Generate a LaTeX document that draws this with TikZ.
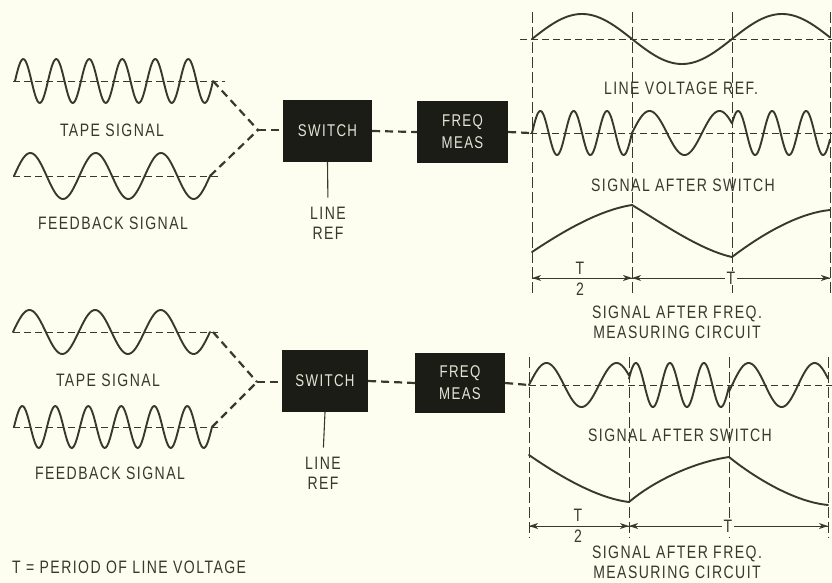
\documentclass[tikz,border=0pt]{standalone}
\usepackage{fontspec}
\usetikzlibrary{arrows.meta}
\newfontfamily\labfont{Liberation Sans}[FakeStretch=0.78,LetterSpace=8]
\definecolor{bgc}{HTML}{FDFDF0}
\definecolor{inkc}{HTML}{38382F}
\definecolor{boxc}{HTML}{1C1C16}
\definecolor{boxtxt}{HTML}{E4E4D6}
\newcommand{\mywave}[6]{\draw[wave] plot[domain=#1:#2,samples=150,smooth] (\x,{#3-#4*sin(#6+(\x-#1)/#5*360)});}
\newcommand{\tipL}[1]{\fill[inkc] (#1) -- ++(9,-3) -- ++(-2.5,3) -- ++(2.5,3) -- cycle;}
\newcommand{\tipR}[1]{\fill[inkc] (#1) -- ++(-9,-3) -- ++(2.5,3) -- ++(-2.5,3) -- cycle;}
\tikzset{
  wave/.style={draw=inkc, line width=1.9pt, line join=round, line cap=round},
  base/.style={draw=inkc, line width=0.9pt, dash pattern=on 7pt off 4pt},
  conn/.style={draw=inkc, line width=2.2pt, dash pattern=on 8pt off 5pt},
  vguide/.style={draw=inkc, line width=0.8pt, dash pattern=on 11pt off 4pt},
  solidln/.style={draw=inkc, line width=1.1pt},
  dimln/.style={draw=inkc, line width=0.9pt},
  blk/.style={fill=boxc, draw=none, text=boxtxt, font=\labfont\fontsize{17}{22}\selectfont, align=center, inner sep=0pt},
  lbl/.style={text=inkc, font=\labfont\fontsize{18}{20}\selectfont, inner sep=0pt, align=center},
}
\begin{document}
\begin{tikzpicture}[x=1pt,y=-1pt]
\useasboundingbox (0,0) rectangle (832,583);
\fill[bgc] (0,0) rectangle (832,583);

% ---------- TOP LEFT ----------
\draw[base] (13,81) -- (225,81);
\mywave{15}{213}{81}{22}{33}{0}
\draw[base] (13,176) -- (222,176);
\mywave{14}{210}{176}{23}{65.333}{0}
\node[lbl] (tape1) at (112,130) {TAPE SIGNAL};
\node[lbl] (feed1) at (113,223) {FEEDBACK SIGNAL};

\node[blk, minimum width=89pt, minimum height=62pt] (sw1) at (327.5,131) {SWITCH};
\node[blk, minimum width=91pt, minimum height=61pt] (fm1) at (462.5,132) {FREQ\\MEAS};
\node[lbl] (lr1) at (328,223) {LINE\\REF};

\coordinate (te1) at (213,81);
\coordinate (fe1) at (210,176);
\coordinate (j1) at (258,130);
\coordinate (o1) at (530,133);
\draw[conn] (te1) -- (j1);
\draw[conn] (fe1) -- (j1);
\draw[conn] (j1) -- (j1 -| sw1.west);
\draw[conn] (sw1.east) -- (fm1.west);
\draw[conn] (fm1.east) -- (o1);
\draw[solidln, shorten >=9pt] (sw1.south) -- (lr1.north);

% ---------- TOP RIGHT ----------
\foreach \xv in {532,632,732,830} \draw[vguide] (\xv,12) -- (\xv,296);
\draw[base] (520,39) -- (832,39);
\mywave{532}{830}{39}{25}{200}{0}
\node[lbl] (lvr) at (681,88) {LINE VOLTAGE REF.};

\draw[base] (o1) -- (832,133);
\mywave{532}{632}{133}{22}{33.333}{0}
\mywave{632}{732}{133}{22}{70}{0}
\mywave{732}{830}{133}{22}{34}{25.5}
\node[lbl] (sas1) at (683,185) {SIGNAL AFTER SWITCH};

\draw[wave] (532,252) .. controls (565,230) and (600,210) .. (632,205);
\draw[wave] (632,205) .. controls (660,222) and (700,250) .. (732,257);
\draw[wave] (732,257) .. controls (765,232) and (800,213) .. (830,210);

\coordinate (da1) at (532,278);
\coordinate (da2) at (632,278);
\coordinate (da3) at (830,278);
\draw[dimln] (da1) -- (da2);
\draw[dimln] (da2) -- (da3);
\tipL{da1} \tipR{da2} \tipL{da2} \tipR{da3}
\node[lbl] (th1) at (580,268) {T};
\node[lbl] (tw1) at (580,289) {2};
\node[lbl, fill=bgc, inner xsep=2pt, inner ysep=1pt] (tt1) at (731,278) {T};
\node[lbl] (sfm1) at (677,322) {SIGNAL AFTER FREQ.\\MEASURING CIRCUIT};

% ---------- BOTTOM LEFT ----------
\draw[base] (13,332) -- (220,332);
\mywave{13}{210}{332}{22}{65.667}{0}
\draw[base] (13,427) -- (222,427);
\mywave{14}{212}{427}{21}{33}{0}
\node[lbl] (tape2) at (108,380) {TAPE SIGNAL};
\node[lbl] (feed2) at (110,473) {FEEDBACK SIGNAL};

\node[blk, minimum width=86pt, minimum height=62pt] (sw2) at (325,381) {SWITCH};
\node[blk, minimum width=90pt, minimum height=60pt] (fm2) at (460,383) {FREQ\\MEAS};
\node[lbl] (lr2) at (323,473) {LINE\\REF};

\coordinate (te2) at (213,332);
\coordinate (fe2) at (212,427);
\coordinate (j2) at (257,382);
\coordinate (o2) at (529,385);
\draw[conn] (te2) -- (j2);
\draw[conn] (fe2) -- (j2);
\draw[conn] (j2) -- (j2 -| sw2.west);
\draw[conn] (sw2.east) -- (fm2.west);
\draw[conn] (fm2.east) -- (o2);
\draw[solidln, shorten >=9pt] (sw2.south) -- (lr2.north);

\node[lbl, anchor=west] (tdef) at (12,567) {T = PERIOD OF LINE VOLTAGE};

% ---------- BOTTOM RIGHT ----------
\foreach \xv in {529,629,729,828} \draw[vguide] (\xv,357) -- (\xv,538);
\draw[base] (o2) -- (832,385);
\mywave{529}{629}{385}{22}{70}{0}
\mywave{629}{729}{385}{22}{34}{17}
\mywave{729}{828}{385}{22}{66}{-17}
\node[lbl] (sas2) at (680,435) {SIGNAL AFTER SWITCH};

\draw[wave] (529,455) .. controls (555,473) and (595,498) .. (629,502);
\draw[wave] (629,502) .. controls (655,480) and (695,462) .. (729,457);
\draw[wave] (729,457) .. controls (755,478) and (795,502) .. (828,505);

\coordinate (db1) at (529,526);
\coordinate (db2) at (629,526);
\coordinate (db3) at (828,526);
\draw[dimln] (db1) -- (db2);
\draw[dimln] (db2) -- (db3);
\tipL{db1} \tipR{db2} \tipL{db2} \tipR{db3}
\node[lbl] (th2) at (578,515) {T};
\node[lbl] (tw2) at (578,536) {2};
\node[lbl, fill=bgc, inner xsep=2pt, inner ysep=1pt] (tt2) at (728,526) {T};
\node[lbl] (sfm2) at (677,562) {SIGNAL AFTER FREQ.\\MEASURING CIRCUIT};
\end{tikzpicture}
\end{document}
